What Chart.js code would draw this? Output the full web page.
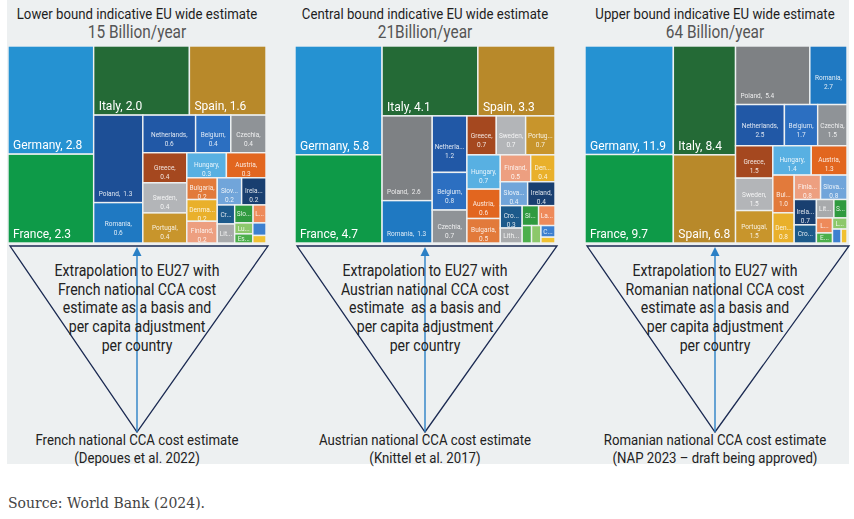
<!DOCTYPE html>
<html>
<head>
<meta charset="utf-8">
<script src="https://cdn.jsdelivr.net/npm/chart.js@4.4.0/dist/chart.umd.min.js"></script>
<style>
    body { margin: 0; width: 854px; height: 519px; background: #fff; position: relative; overflow: hidden; font-family: Roboto, "Liberation Sans", sans-serif; }
    #panel { position: absolute; left: 7px; top: 0; width: 842px; height: 464px; background: #edf0f1; }
    .map { position: absolute; top: 46px; height: 197px; }
    .txt { position: absolute; white-space: pre; color: #222; transform: translate(-50%, -50%) scaleX(0.88); line-height: 1; }
    #source { position: absolute; left: 8px; top: 495px; font-family: "DejaVu Serif", serif; font-size: 14px; color: #444; }
    svg { position: absolute; left: 0; top: 0; }
</style>
</head>
<body>
<div id="panel"></div>
<svg id="tri" width="854" height="519"></svg>
<div id="source">Source: World Bank (2024).</div>

<script>
// --- Data -------------------------------------------------------------
const COUNTRIES = ['Germany', 'France', 'Italy', 'Spain', 'Poland', 'Romania', 'Netherlands', 'Belgium', 'Czechia',
    'Greece', 'Sweden', 'Portugal', 'Hungary', 'Austria', 'Bulgaria', 'Denmark', 'Finland', 'Slovakia', 'Ireland',
    'Croatia', 'Lithuania', 'Slovenia', 'Latvia', 'Estonia', 'Luxembourg', 'Cyprus', 'Malta'];

// billion EUR / year
const LOWER   = [2.8, 2.3, 2.0, 1.6, 1.3, 0.6, 0.6, 0.4, 0.4, 0.4, 0.4, 0.4, 0.3, 0.3, 0.2, 0.2, 0.2, 0.2, 0.2,
    0.1, 0.1, 0.1, 0.07, 0.05, 0.06, 0.05, 0.03];
const CENTRAL = [5.8, 4.7, 4.1, 3.3, 2.6, 1.3, 1.2, 0.8, 0.7, 0.7, 0.7, 0.7, 0.7, 0.6, 0.5, 0.4, 0.5, 0.4, 0.4,
    0.3, 0.2, 0.2, 0.2, 0.1, 0.1, 0.1, 0.05];
const UPPER   = [11.9, 9.7, 8.4, 6.8, 5.4, 2.7, 2.5, 1.7, 1.5, 1.5, 1.5, 1.5, 1.4, 1.3, 1.0, 0.8, 0.8, 0.8, 0.7,
    0.5, 0.4, 0.3, 0.3, 0.2, 0.2, 0.15, 0.1];

const COLORS = ['#2592d2', '#0e9a48', '#246a36', '#b8892a', '#7e8184', '#1f79c2', '#2158a6', '#2c6fc1', '#8f9397',
    '#a5481f', '#b3b5b8', '#c8952c', '#58b0e2', '#e2661f', '#e27a3b', '#e9b02b', '#ed9f80', '#71a5da', '#193f70',
    '#1c5a8b', '#a8aaac', '#2f9a3f', '#ee8a5a', '#4caf4b', '#8cc86b', '#3d80d0', '#f1c131'];
const POLAND_LOWER_COLOR = '#1d4f96';

const TITLES = ['Lower bound indicative EU wide estimate', 'Central bound indicative EU wide estimate',
    'Upper bound indicative EU wide estimate'];
const SUBTITLES = ['15 Billion/year', '21Billion/year', '64 Billion/year'];
const TRI_TEXT = [
    ['Extrapolation to EU27 with', 'French national CCA cost', 'estimate as a basis and', 'per capita adjustment', 'per country'],
    ['Extrapolation to EU27 with', 'Austrian national CCA cost', 'estimate  as a basis and', 'per capita adjustment', 'per country'],
    ['Extrapolation to EU27 with', 'Romanian national CCA cost', 'estimate as a basis and', 'per capita adjustment', 'per country']
];
const BASE_TEXT = [
    ['French national CCA cost estimate', '(Depoues et al. 2022)'],
    ['Austrian national CCA cost estimate', '(Knittel et al. 2017)'],
    ['Romanian national CCA cost estimate', '(NAP 2023 \u2013 draft being approved)']
];

// --- Layout of the three panels ----------------------------------------
const PANELS = [
    { values: LOWER,   left: 8,   width: 258, cx: 137, aspect: 1.3,  overrides: { Poland: POLAND_LOWER_COLOR } },
    { values: CENTRAL, left: 295, width: 260, cx: 425, aspect: 1.45, overrides: {} },
    { values: UPPER,   left: 585, width: 262, cx: 715, aspect: 1.55, overrides: {} }
];

// squarified treemap in data units (x: 0..w, y: 0..h)
function squarify(items, w, h) {
    const total = items.reduce((s, d) => s + d.value, 0);
    const k = (w * h) / total;
    let x = 0, y = 0, i = 0;
    const out = [];
    const worst = (row, side) => {
        const s = row.reduce((a, b) => a + b, 0);
        return Math.max(...row.map(a => Math.max(side * side * a / (s * s), (s * s) / (side * side * a))));
    };
    while (i < items.length) {
        const vertical = w >= h;
        const side = vertical ? h : w;
        let row = [items[i].value * k];
        let best = worst(row, side);
        let j = i + 1;
        while (j < items.length) {
            const cand = row.concat(items[j].value * k);
            const wc = worst(cand, side);
            if (wc > best) break;
            row = cand; best = wc; j++;
        }
        const thick = row.reduce((a, b) => a + b, 0) / side;
        let off = 0;
        row.forEach((a, n) => {
            const len = a / thick;
            const it = items[i + n];
            if (vertical) Object.assign(it, { x0: x, x1: x + thick, y0: y + off, y1: y + off + len });
            else Object.assign(it, { x0: x + off, x1: x + off + len, y0: y, y1: y + thick });
            it.x = (it.x0 + it.x1) / 2;
            it.y = (it.y0 + it.y1) / 2;
            out.push(it);
            off += len;
        });
        if (vertical) { x += thick; w -= thick; } else { y += thick; h -= thick; }
        i = j;
    }
    return out;
}

function fitName(ctx, name, maxW) {
    if (ctx.measureText(name + ',').width <= maxW) return name + ',';
    for (let n = name.length - 1; n >= 1; n--) {
        const s = name.slice(0, n) + '...';
        if (ctx.measureText(s).width <= maxW) return s;
    }
    return null;
}

function drawLabel(ctx, c, rank, l, t, w, h) {
    ctx.fillStyle = '#ffffff';
    ctx.textBaseline = 'alphabetic';
    if (rank < 4) {
        ctx.font = '12px Roboto';
        ctx.textAlign = 'left';
        ctx.fillText(c.name + ', ' + c.value.toFixed(1), l + 5, t + h - 5);
        return;
    }
    ctx.font = '6.5px Roboto';
    ctx.globalAlpha = 0.85;
    const full = c.name + ',  ' + c.value.toFixed(1);
    if (w > 46 && ctx.measureText(full).width + 10 < w) {
        ctx.textAlign = 'left';
        ctx.fillText(full, l + 5, t + h - 7);
    } else if (w > 9 && h > 9) {
        ctx.textAlign = 'center';
        const name = fitName(ctx, c.name, w - 4);
        if (name) {
            if (h > 20) {
                const mid = t + h * 0.6;
                ctx.fillText(name, l + w / 2, mid - 1);
                ctx.fillText(c.value.toFixed(1), l + w / 2, mid + 8);
            } else {
                ctx.fillText(name, l + w / 2, t + h / 2 + 2.5);
            }
        }
    }
    ctx.globalAlpha = 1;
}

const treemapPlugin = {
    id: 'treemapCells',
    afterDatasetsDraw(chart) {
        const { ctx, scales: { x, y } } = chart;
        const cells = chart.data.datasets[0].data;
        ctx.save();
        cells.forEach((c, i) => {
            const l = x.getPixelForValue(c.x0), r = x.getPixelForValue(c.x1);
            const t = y.getPixelForValue(c.y0), b = y.getPixelForValue(c.y1);
            ctx.fillStyle = c.color;
            ctx.fillRect(l, t, r - l, b - t);
            ctx.strokeStyle = '#eef1f2';
            ctx.lineWidth = 1.4;
            ctx.strokeRect(l, t, r - l, b - t);
            drawLabel(ctx, c, i, l, t, r - l, b - t);
        });
        ctx.restore();
    }
};

function addText(str, x, y, size, color) {
    const d = document.createElement('div');
    d.className = 'txt';
    d.textContent = str;
    d.style.left = x + 'px';
    d.style.top = y + 'px';
    d.style.fontSize = size + 'px';
    if (color) d.style.color = color;
    document.body.appendChild(d);
}

const svg = document.getElementById('tri');
const NS = 'http://www.w3.org/2000/svg';
function svgEl(tag, attrs) {
    const e = document.createElementNS(NS, tag);
    Object.entries(attrs).forEach(([k, v]) => e.setAttribute(k, v));
    svg.appendChild(e);
}

PANELS.forEach((p, idx) => {
    // treemap
    const items = COUNTRIES.map((name, i) => ({
        name, value: p.values[i], color: p.overrides[name] || COLORS[i]
    })).sort((a, b) => b.value - a.value);
    const LW = 100 * p.aspect;
    const cells = squarify(items, LW, 100);

    const box = document.createElement('div');
    box.className = 'map';
    box.style.left = p.left + 'px';
    box.style.width = p.width + 'px';
    const cv = document.createElement('canvas');
    box.appendChild(cv);
    document.body.appendChild(box);

    new Chart(cv, {
        type: 'scatter',
        data: { datasets: [{ data: cells, pointRadius: 0, pointHoverRadius: 0 }] },
        options: {
            responsive: true,
            maintainAspectRatio: false,
            animation: false,
            layout: { padding: 0 },
            events: [],
            scales: {
                x: { type: 'linear', min: 0, max: LW, display: false },
                y: { type: 'linear', min: 0, max: 100, reverse: true, display: false }
            },
            plugins: { legend: { display: false }, tooltip: { enabled: false } }
        },
        plugins: [treemapPlugin]
    });

    // headings
    addText(TITLES[idx], p.cx, 14, 15, '#1e1e1e');
    addText(SUBTITLES[idx], p.cx, 33, 17.5, '#555');

    // triangle + arrow
    const l = p.left + 2, r = p.left + p.width + 2, top = 246, apexY = 432;
    svgEl('polygon', { points: `${l},${top} ${r},${top} ${p.cx},${apexY}`, fill: 'none', stroke: '#1b2a52', 'stroke-width': 1.3 });
    svgEl('line', { x1: p.cx, y1: apexY, x2: p.cx, y2: top + 8, stroke: '#2a80c6', 'stroke-width': 1.4 });
    svgEl('polygon', { points: `${p.cx},${top + 1} ${p.cx - 4.5},${top + 10} ${p.cx + 4.5},${top + 10}`, fill: '#2a80c6' });

    TRI_TEXT[idx].forEach((line, k) => addText(line, p.cx, 271 + k * 18.7, 16));
    BASE_TEXT[idx].forEach((line, k) => addText(line, p.cx, 440 + k * 18, 15));
});
</script>
</body>
</html>
